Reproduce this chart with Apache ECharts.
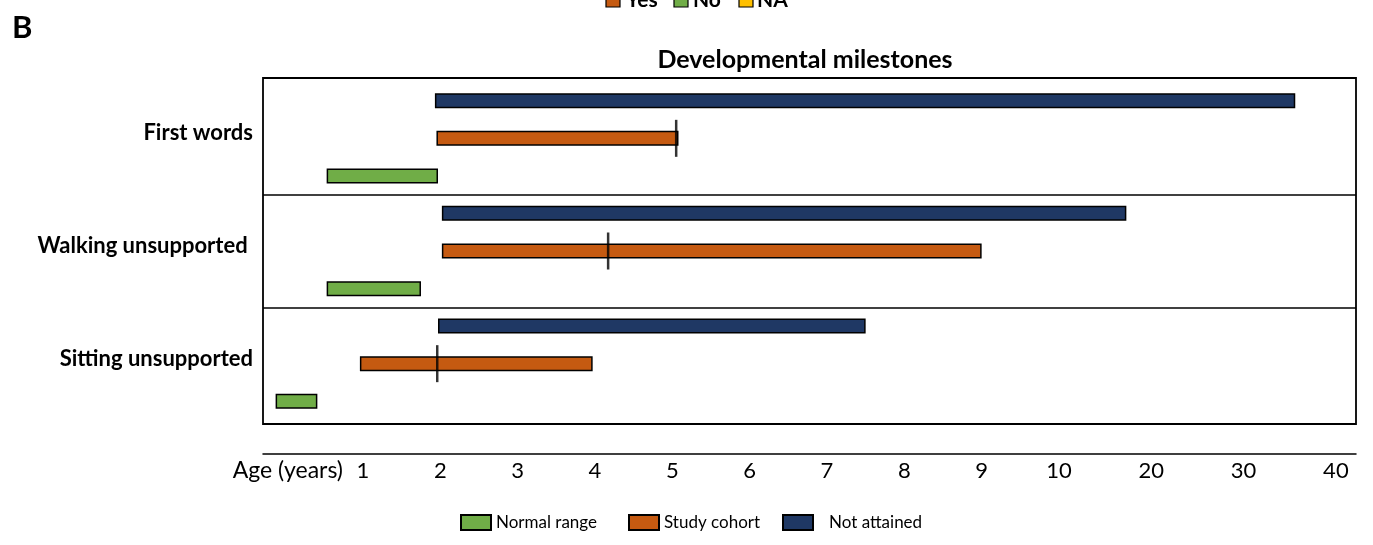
<!DOCTYPE html>
<html>
<head>
<meta charset="utf-8">
<script src="https://cdn.jsdelivr.net/npm/echarts@6/dist/echarts.min.js"></script>
<style>
html,body{margin:0;padding:0;background:#fff;}
#c{width:1373px;height:545px;}
</style>
</head>
<body>
<div id="c"></div>
<script>
// Categories, bottom to top on the axis
const categories = ['Sitting unsupported', 'Walking unsupported ', 'First words'];
// Ranges in years [start, end]
const normalRange = [[-0.13, 0.41], [0.53, 1.75], [0.53, 1.97]];
const studyCohort = [[0.96, 3.97], [2.02, 9.0], [1.95, 5.08]];
const notAttained = [[1.97, 7.5], [2.02, 17.3], [1.93, 35.6]];
const cohortMedian = [1.96, 4.17, 5.05];
const tickYears = [1, 2, 3, 4, 5, 6, 7, 8, 9, 10, 20, 30, 40];
const tickLabels = ['1', '2', '3', '4', '5', '6', '7', '8', '9', '10', '20', '30', '40'];

// Piecewise axis: 1..10 linear in years, 10..40 compressed (each decade = K units)
const K = 1.1936;
function toU(v) { return v <= 10 ? v : 10 + (v - 10) / 10 * K; }

const FONT = 'Lato';
const colors = { green: '#70AD47', orange: '#C55A11', navy: '#1F3864' };

function baseData(arr) { return arr.map(r => toU(r[0])); }
function spanData(arr) { return arr.map(r => toU(r[1]) - toU(r[0])); }

function pair(name, arr, color, stack) {
  return [
    { type: 'bar', xAxisIndex: 1, yAxisIndex: 1, stack: stack, stackStrategy: 'all', barWidth: 15, barGap: '151%', silent: true,
      itemStyle: { color: 'transparent', borderColor: 'transparent' }, data: baseData(arr), z: 2 },
    { type: 'bar', xAxisIndex: 1, yAxisIndex: 1, name: name, stack: stack, stackStrategy: 'all', barWidth: 15, barGap: '151%',
      itemStyle: { color: color, borderColor: '#000', borderWidth: 1.5 }, data: spanData(arr), z: 3 }
  ];
}

const uTicks = tickYears.map(toU);

const chart = echarts.init(document.getElementById('c'), null, { renderer: 'canvas' });
chart.setOption({
  animation: false,
  backgroundColor: '#fff',
  textStyle: { fontFamily: FONT },
  title: {
    text: 'Developmental milestones', left: 800, top: 42, textAlign: 'center',
    textStyle: { fontFamily: FONT, fontWeight: 'bold', fontSize: 25, color: '#000' }
  },
  grid: [
    { left: 263, right: 17, top: 78, bottom: 121, show: true, borderColor: '#000', borderWidth: 1.8, z: 1 },
    { left: 263, right: 17, top: 82, bottom: 125, show: false }
  ],
  xAxis: [
    { gridIndex: 0, type: 'value', show: false, min: 0, max: 1 },
    {
      gridIndex: 1, type: 'value', min: -0.293, max: 13.841, offset: 34,
      axisLine: { show: true, lineStyle: { color: '#000', width: 1.5 } },
      axisTick: { show: false },
      splitLine: { show: false },
      axisLabel: {
        customValues: uTicks, margin: 6,
        fontFamily: FONT, fontSize: 22, color: '#000',
        formatter: function (v) {
          let best = 0, bd = 1e9;
          uTicks.forEach((u, i) => { const d = Math.abs(u - v); if (d < bd) { bd = d; best = i; } });
          return tickLabels[best];
        }
      }
    }
  ],
  yAxis: [
    { gridIndex: 0, type: 'value', show: false, min: 0, max: 1 },
    {
      gridIndex: 1, type: 'category', data: categories,
      axisLine: { show: false },
      axisTick: { show: false },
      splitLine: { show: true, showMinLine: false, showMaxLine: false, lineStyle: { color: '#000', width: 1.5 } },
      axisLabel: { fontFamily: FONT, fontWeight: 'bold', fontSize: 22, color: '#000', margin: 10,
        verticalAlign: 'bottom', lineHeight: 10 }
    }
  ],
  legend: [
    { data: ['Normal range'], left: 460, top: 514, padding: 0, itemWidth: 30, itemHeight: 15, icon: 'rect',
      textStyle: { fontFamily: FONT, fontSize: 17, color: '#000' } },
    { data: ['Study cohort'], left: 628, top: 514, padding: 0, itemWidth: 30, itemHeight: 15, icon: 'rect',
      textStyle: { fontFamily: FONT, fontSize: 17, color: '#000' } },
    { data: ['Not attained'], left: 782, top: 514, padding: 0, itemWidth: 30, itemHeight: 15, icon: 'rect',
      textStyle: { fontFamily: FONT, fontSize: 17, color: '#000', padding: [0, 0, 0, 11] } }
  ],
  graphic: [
    { type: 'text', left: 12, top: 12, style: { text: 'B', font: 'bold 31px Lato', fill: '#000' } },
    { type: 'text', x: 343, y: 471, style: { text: 'Age (years)', font: '23px Lato', fill: '#000', align: 'right', verticalAlign: 'middle' } },
    { type: 'rect', shape: { x: 606, y: -7, width: 14, height: 14 }, style: { fill: '#C55A11', stroke: '#000', lineWidth: 1.2 } },
    { type: 'text', x: 626, y: 0, style: { text: 'Yes', font: 'bold 21px Lato', fill: '#000', verticalAlign: 'middle' } },
    { type: 'rect', shape: { x: 674, y: -7, width: 14, height: 14 }, style: { fill: '#70AD47', stroke: '#000', lineWidth: 1.2 } },
    { type: 'text', x: 693, y: 0, style: { text: 'No', font: 'bold 21px Lato', fill: '#000', verticalAlign: 'middle' } },
    { type: 'rect', shape: { x: 739, y: -7, width: 14, height: 14 }, style: { fill: '#FFC000', stroke: '#000', lineWidth: 1.2 } },
    { type: 'text', x: 757, y: 0, style: { text: 'NA', font: 'bold 21px Lato', fill: '#000', verticalAlign: 'middle' } }
  ],
  series: [
    ...pair('Not attained', notAttained, colors.navy, 'n'),
    ...pair('Study cohort', studyCohort, colors.orange, 'o'),
    ...pair('Normal range', normalRange, colors.green, 'g'),
    { type: 'scatter', xAxisIndex: 1, yAxisIndex: 1, name: 'median', symbol: 'rect', symbolSize: [2.5, 37], z: 10, silent: true,
      itemStyle: { color: '#000' },
      data: cohortMedian.map((m, i) => [toU(m), i]) }
  ]
});
</script>
</body>
</html>
